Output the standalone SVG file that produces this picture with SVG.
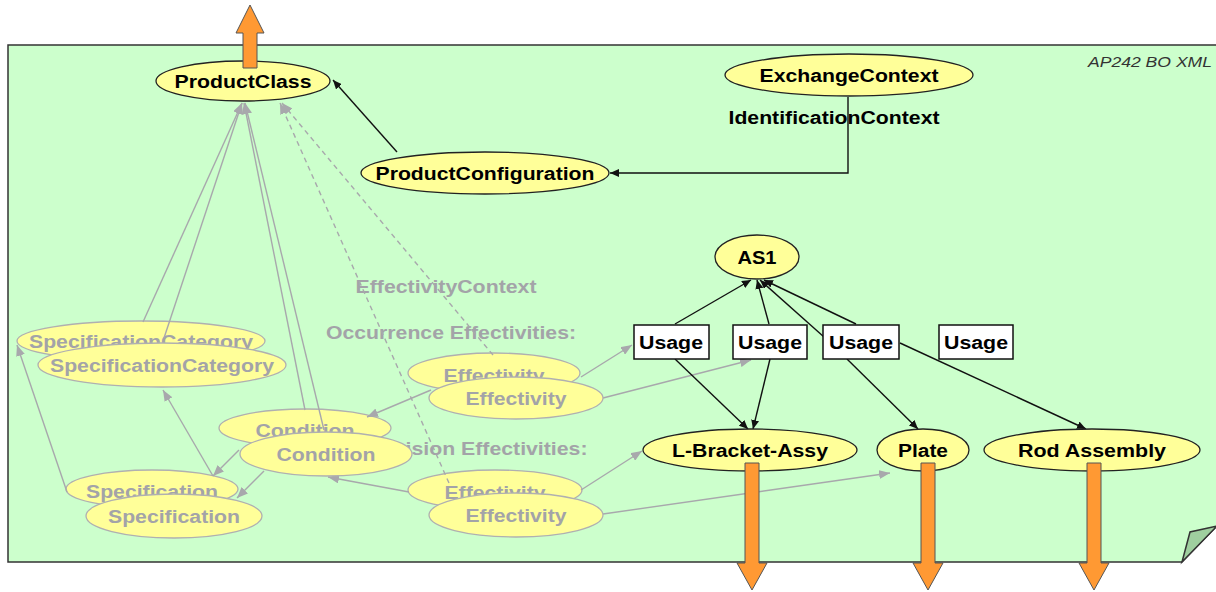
<svg xmlns="http://www.w3.org/2000/svg" width="1216" height="592" viewBox="0 0 1216 592">
<defs>
<style>
.t{font-family:"Liberation Sans",Arial,sans-serif;font-weight:bold;font-size:18px;text-anchor:middle;fill:#000}
.g{fill:#a3a3a8}
.en{fill:#ffff99;stroke:#222;stroke-width:1.3}
.eg{fill:#ffff99;stroke:#b0b0b0;stroke-width:1.3}
.bl{fill:none;stroke:#111;stroke-width:1.4}
.gl{fill:none;stroke:#a8a8ac;stroke-width:1.4}
.dl{fill:none;stroke:#a8a8ac;stroke-width:1.4;stroke-dasharray:5,4}
.box{fill:#fff;stroke:#111;stroke-width:1.5}
.or{fill:#ff9933;stroke:#555;stroke-width:1}
</style>
<marker id="ab" markerUnits="userSpaceOnUse" markerWidth="9" markerHeight="8" refX="9" refY="4" orient="auto"><path d="M0,0 L9,4 L0,8 z" fill="#111"/></marker>
<marker id="ag" markerUnits="userSpaceOnUse" markerWidth="11" markerHeight="9" refX="11" refY="4.5" orient="auto"><path d="M0,0 L11,4.5 L0,9 z" fill="#a8a8ac"/></marker>
</defs>

<g id="panel">
<path d="M8,45 H1217 V526 L1182,562 H8 Z" fill="#ccffcc" stroke="#333" stroke-width="1.5"/>
<path d="M1182,562 L1190,532 L1217,526 Z" fill="#9fcf9f" stroke="#333" stroke-width="1.5"/>
<text x="1212" y="67" font-family="Liberation Sans,Arial,sans-serif" font-style="italic" font-size="15" text-anchor="end" fill="#333" textLength="124" lengthAdjust="spacingAndGlyphs">AP242 BO XML</text>
</g>

<g id="labels">
<text class="t" x="834" y="124" textLength="211" lengthAdjust="spacingAndGlyphs">IdentificationContext</text>
<text class="t g" x="446" y="293" textLength="181" lengthAdjust="spacingAndGlyphs">EffectivityContext</text>
<text class="t g" x="451" y="339" textLength="250" lengthAdjust="spacingAndGlyphs">Occurrence Effectivities:</text>
<text class="t g" x="477" y="455" textLength="221" lengthAdjust="spacingAndGlyphs">Revision Effectivities:</text>
</g>

<g id="ghost-back">
<g id="speccat-1"><ellipse class="eg" cx="141" cy="341" rx="124" ry="20"/><text class="t g" x="141" y="348" textLength="224" lengthAdjust="spacingAndGlyphs">SpecificationCategory</text></g>
<g id="condition-1"><ellipse class="eg" cx="305" cy="428" rx="86" ry="19"/><text class="t g" x="305" y="437" textLength="99" lengthAdjust="spacingAndGlyphs">Condition</text></g>
<g id="spec-1"><ellipse class="eg" cx="152" cy="489" rx="86" ry="19"/><text class="t g" x="152" y="498" textLength="132" lengthAdjust="spacingAndGlyphs">Specification</text></g>
<g id="eff-occ-1"><ellipse class="eg" cx="494" cy="373" rx="86" ry="20"/><text class="t g" x="494" y="382" textLength="101" lengthAdjust="spacingAndGlyphs">Effectivity</text></g>
<g id="eff-rev-1"><ellipse class="eg" cx="495" cy="490" rx="87" ry="20"/><text class="t g" x="495" y="499" textLength="101" lengthAdjust="spacingAndGlyphs">Effectivity</text></g>
</g>

<g id="connectors-gray">
<line class="gl" x1="143" y1="322" x2="242" y2="103" marker-end="url(#ag)"/>
<line class="gl" x1="164" y1="338" x2="242" y2="103" marker-end="url(#ag)"/>
<line class="gl" x1="305" y1="410" x2="244" y2="103" marker-end="url(#ag)"/>
<line class="gl" x1="324" y1="430" x2="245" y2="103" marker-end="url(#ag)"/>
<line class="dl" x1="449" y1="483" x2="280" y2="103" marker-end="url(#ag)"/>
<line class="dl" x1="493" y1="355" x2="282" y2="103" marker-end="url(#ag)"/>
<line class="gl" x1="581" y1="377" x2="632" y2="345" marker-end="url(#ag)"/>
<line class="gl" x1="603" y1="398" x2="751" y2="360" marker-end="url(#ag)"/>
<line class="gl" x1="581" y1="490" x2="642" y2="451" marker-end="url(#ag)"/>
<line class="gl" x1="603" y1="514" x2="890" y2="473" marker-end="url(#ag)"/>
<line class="gl" x1="431" y1="390" x2="367" y2="417" marker-end="url(#ag)"/>
<line class="gl" x1="409" y1="492" x2="328" y2="477" marker-end="url(#ag)"/>
<line class="gl" x1="239" y1="450" x2="213" y2="476" marker-end="url(#ag)"/>
<line class="gl" x1="264" y1="471" x2="237" y2="498" marker-end="url(#ag)"/>
<line class="gl" x1="213" y1="476" x2="163" y2="390" marker-end="url(#ag)"/>
<line class="gl" x1="67" y1="492" x2="17" y2="345" marker-end="url(#ag)"/>
</g>

<g id="ghost-front">
<g id="speccat-2"><ellipse class="eg" cx="162" cy="365" rx="124" ry="22"/><text class="t g" x="162" y="372" textLength="224" lengthAdjust="spacingAndGlyphs">SpecificationCategory</text></g>
<g id="condition-2"><ellipse class="eg" cx="326" cy="454" rx="86" ry="22"/><text class="t g" x="326" y="461" textLength="99" lengthAdjust="spacingAndGlyphs">Condition</text></g>
<g id="spec-2"><ellipse class="eg" cx="174" cy="516" rx="88" ry="22"/><text class="t g" x="174" y="523" textLength="132" lengthAdjust="spacingAndGlyphs">Specification</text></g>
<g id="eff-occ-2"><ellipse class="eg" cx="516" cy="398" rx="87" ry="21"/><text class="t g" x="516" y="405" textLength="101" lengthAdjust="spacingAndGlyphs">Effectivity</text></g>
<g id="eff-rev-2"><ellipse class="eg" cx="516" cy="515" rx="87" ry="22"/><text class="t g" x="516" y="522" textLength="101" lengthAdjust="spacingAndGlyphs">Effectivity</text></g>
</g>

<g id="connectors">
<line class="bl" x1="397" y1="152" x2="333" y2="80" marker-end="url(#ab)"/>
<polyline class="bl" points="848,97 848,173 610,173" marker-end="url(#ab)"/>
<line class="bl" x1="675" y1="324" x2="751" y2="280" marker-end="url(#ab)"/>
<line class="bl" x1="769" y1="324" x2="757" y2="280" marker-end="url(#ab)"/>
<line class="bl" x1="824" y1="337" x2="760" y2="280" marker-end="url(#ab)"/>
<line class="bl" x1="856" y1="324" x2="764" y2="280" marker-end="url(#ab)"/>
<line class="bl" x1="675" y1="359" x2="748" y2="429" marker-end="url(#ab)"/>
<line class="bl" x1="770" y1="359" x2="753" y2="429" marker-end="url(#ab)"/>
<line class="bl" x1="847" y1="359" x2="918" y2="429" marker-end="url(#ab)"/>
<line class="bl" x1="900" y1="343" x2="1086" y2="429" marker-end="url(#ab)"/>
</g>

<g id="productclass"><ellipse class="en" cx="243" cy="81" rx="87" ry="20"/><text class="t" x="243" y="88" textLength="137" lengthAdjust="spacingAndGlyphs">ProductClass</text></g>
<g id="exchangecontext"><ellipse class="en" cx="849" cy="75" rx="124" ry="21"/><text class="t" x="849" y="82" textLength="179" lengthAdjust="spacingAndGlyphs">ExchangeContext</text></g>
<g id="productconfiguration"><ellipse class="en" cx="485" cy="173" rx="124" ry="21"/><text class="t" x="485" y="180" textLength="219" lengthAdjust="spacingAndGlyphs">ProductConfiguration</text></g>
<g id="as1"><ellipse class="en" cx="757" cy="257" rx="42" ry="22"/><text class="t" x="757" y="264" textLength="39" lengthAdjust="spacingAndGlyphs">AS1</text></g>
<g id="usage-1"><rect class="box" x="634" y="325" width="75" height="34"/><text class="t" x="671" y="349" textLength="64" lengthAdjust="spacingAndGlyphs">Usage</text></g>
<g id="usage-2"><rect class="box" x="733" y="325" width="74" height="34"/><text class="t" x="770" y="349" textLength="64" lengthAdjust="spacingAndGlyphs">Usage</text></g>
<g id="usage-3"><rect class="box" x="823" y="325" width="76" height="34"/><text class="t" x="861" y="349" textLength="64" lengthAdjust="spacingAndGlyphs">Usage</text></g>
<g id="usage-4"><rect class="box" x="939" y="325" width="74" height="34"/><text class="t" x="976" y="349" textLength="64" lengthAdjust="spacingAndGlyphs">Usage</text></g>
<g id="l-bracket-assy"><ellipse class="en" cx="750" cy="450" rx="107" ry="21"/><text class="t" x="750" y="457" textLength="156" lengthAdjust="spacingAndGlyphs">L-Bracket-Assy</text></g>
<g id="plate"><ellipse class="en" cx="923" cy="450" rx="46" ry="21"/><text class="t" x="923" y="457" textLength="50" lengthAdjust="spacingAndGlyphs">Plate</text></g>
<g id="rod-assembly"><ellipse class="en" cx="1092" cy="450" rx="108" ry="21"/><text class="t" x="1092" y="457" textLength="148" lengthAdjust="spacingAndGlyphs">Rod Assembly</text></g>

<g id="external-arrows">
<polygon class="or" points="243,68 243,33 236,33 250,5 264,33 257,33 257,68"/>
<polygon class="or" points="745,463 759,463 759,563 767,563 752,590 737,563 745,563"/>
<polygon class="or" points="921,463 935,463 935,563 943,563 928,590 913,563 921,563"/>
<polygon class="or" points="1087,463 1101,463 1101,563 1109,563 1094,590 1079,563 1087,563"/>
</g>
</svg>
